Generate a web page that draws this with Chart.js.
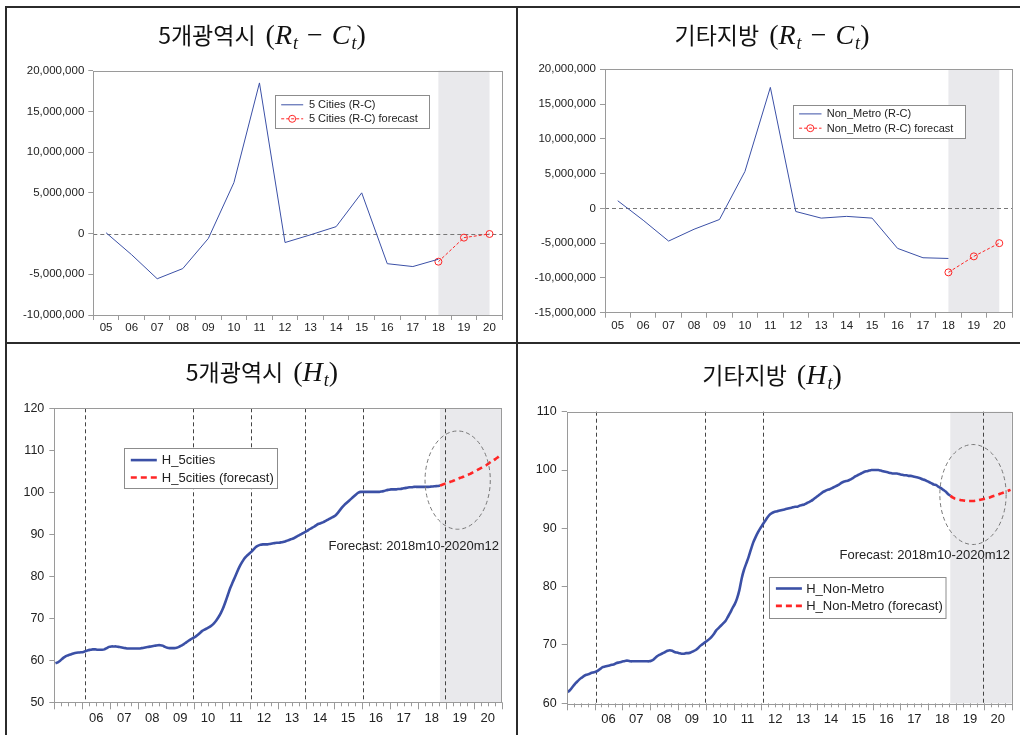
<!DOCTYPE html>
<html>
<head>
<meta charset="utf-8">
<script src="https://cdn.jsdelivr.net/npm/chart.js@4.4.1/dist/chart.umd.min.js"></script>
<style>
body{margin:0;background:#fff;width:1020px;height:735px;overflow:hidden;position:relative;}
canvas{position:absolute;}
.rule{position:absolute;background:#2b2b2b;}
.title{position:absolute;transform:translate(-50%,-50%);white-space:nowrap;color:#111;}
.title .ko{font-family:"Noto Sans CJK KR";font-size:23px;}
.title .m{font-family:"Liberation Serif",serif;font-size:28px;margin-left:6px;}
.title .op{display:inline-block;margin:0 9px;}
.title sub{font-size:18px;font-style:italic;vertical-align:-5px;margin-left:1px;}
</style>
</head>
<body>
<canvas id="c1" width="516" height="343" style="left:0;top:0"></canvas>
<canvas id="c2" width="504" height="343" style="left:516px;top:0"></canvas>
<canvas id="c3" width="516" height="392" style="left:0;top:343px"></canvas>
<canvas id="c4" width="504" height="392" style="left:516px;top:343px"></canvas>

<div class="rule" style="left:5px;top:6px;width:1015px;height:2px"></div>
<div class="rule" style="left:5px;top:6px;width:2px;height:729px"></div>
<div class="rule" style="left:516px;top:6px;width:2px;height:729px"></div>
<div class="rule" style="left:5px;top:342px;width:1015px;height:2px"></div>

<div class="title" style="left:262px;top:35px"><span class="ko">5개광역시</span> <span class="m">(<i>R</i><sub>t</sub><span class="op">−</span><i>C</i><sub>t</sub>)</span></div>
<div class="title" style="left:772px;top:35px"><span class="ko">기타지방</span> <span class="m">(<i>R</i><sub>t</sub><span class="op">−</span><i>C</i><sub>t</sub>)</span></div>
<div class="title" style="left:262px;top:372px"><span class="ko">5개광역시</span> <span class="m">(<i>H</i><sub>t</sub>)</span></div>
<div class="title" style="left:772px;top:375px"><span class="ko">기타지방</span> <span class="m">(<i>H</i><sub>t</sub>)</span></div>

<script>
// annual R-C, years 2005..2020
const years = ['05','06','07','08','09','10','11','12','13','14','15','16','17','18','19','20'];
const rc5Actual = [100000, -2600000, -5550000, -4300000, -600000, 6250000, 18500000, -1100000,
  -150000, 850000, 5000000, -3700000, -4050000, -3150000];
const rc5Forecast = [null, null, null, null, null, null, null, null, null, null, null, null, null,
  -3450000, -500000, -50000];
const rcNmActual = [1100000, -1700000, -4700000, -3000000, -1600000, 5300000, 17400000, -450000,
  -1400000, -1150000, -1400000, -5750000, -7100000, -7200000];
const rcNmForecast = [null, null, null, null, null, null, null, null, null, null, null, null, null,
  -9200000, -6900000, -5000000];

// monthly H index, 2005m1..2018m10 actual, 2018m10..2020m12 forecast
const hTickLabels = ['06','07','08','09','10','11','12','13','14','15','16','17','18','19','20'];
const forecastStart = 165; // 2018m10
const h5Actual = [
  59.3, 59.5, 59.9, 60.4, 60.8, 61.1, 61.3, 61.5, 61.7, 61.8, 61.85, 61.9,   // 05
  62.0, 62.2, 62.4, 62.5, 62.6, 62.6, 62.5, 62.5, 62.5, 62.6, 62.9, 63.2,    // 06
  63.3, 63.3, 63.3, 63.2, 63.1, 63.0, 62.9, 62.8, 62.8, 62.8, 62.8, 62.8,    // 07
  62.8, 62.9, 63.0, 63.1, 63.2, 63.3, 63.4, 63.5, 63.6, 63.6, 63.5, 63.2,    // 08
  63.0, 62.9, 62.9, 62.9, 63.0, 63.2, 63.5, 63.8, 64.2, 64.6, 65.0, 65.3,    // 09
  65.6, 66.0, 66.5, 67.0, 67.3, 67.6, 67.9, 68.3, 68.8, 69.5, 70.3, 71.3,    // 10
  72.5, 74.0, 75.6, 77.2, 78.5, 79.8, 81.1, 82.3, 83.3, 84.2, 84.8, 85.3,    // 11
  85.8, 86.4, 87.0, 87.3, 87.5, 87.6, 87.6, 87.6, 87.7, 87.8, 87.9, 88.0,    // 12
  88.0, 88.1, 88.2, 88.4, 88.6, 88.8, 89.0, 89.3, 89.6, 89.9, 90.2, 90.5,    // 13
  90.8, 91.2, 91.5, 91.8, 92.2, 92.5, 92.7, 92.9, 93.2, 93.5, 93.8, 94.1,    // 14
  94.4, 95.0, 95.7, 96.4, 97.0, 97.5, 98.0, 98.5, 99.0, 99.5, 99.9, 100.1,   // 15
  100.1, 100.1, 100.1, 100.1, 100.1, 100.1, 100.1, 100.1, 100.2, 100.3, 100.5, 100.6, // 16
  100.7, 100.7, 100.7, 100.8, 100.8, 100.9, 101.0, 101.1, 101.2, 101.2, 101.3, 101.3, // 17
  101.3, 101.3, 101.3, 101.3, 101.3, 101.35, 101.4, 101.45, 101.5, 101.6               // 18
];
const h5Forecast = [101.6, 101.8, 102.0, 102.2, 102.4, 102.6, 102.8, 103.05, 103.3, 103.5, 103.7,
  104.0, 104.2, 104.4, 104.7, 105.0, 105.3, 105.6, 105.9, 106.2, 106.5, 106.9, 107.3, 107.6,
  108.0, 108.4, 108.9];
const h5Breaks = [13, 59.5, 84.5, 107.5, 132.5, 167.5];

const hNmActual = [
  61.9, 62.3, 62.8, 63.3, 63.7, 64.1, 64.4, 64.7, 64.9, 65.0, 65.2, 65.3,    // 05
  65.4, 65.6, 65.9, 66.2, 66.3, 66.4, 66.5, 66.6, 66.7, 66.9, 67.0, 67.1,    // 06
  67.2, 67.3, 67.3, 67.2, 67.2, 67.2, 67.2, 67.2, 67.2, 67.2, 67.2, 67.2,    // 07
  67.3, 67.5, 67.9, 68.2, 68.4, 68.6, 68.8, 69.0, 69.1, 69.0, 68.8, 68.7,    // 08
  68.6, 68.5, 68.5, 68.6, 68.6, 68.7, 68.9, 69.1, 69.4, 69.8, 70.1, 70.4,    // 09
  70.7, 71.0, 71.4, 71.9, 72.5, 72.9, 73.3, 73.7, 74.1, 74.8, 75.5, 76.3,    // 10
  77.0, 78.0, 79.4, 81.4, 82.9, 84.0, 85.1, 86.4, 87.6, 88.5, 89.3, 90.0,    // 11
  90.6, 91.2, 91.8, 92.3, 92.6, 92.8, 92.9, 93.0, 93.1, 93.2, 93.3, 93.4,    // 12
  93.5, 93.6, 93.7, 93.7, 93.9, 94.0, 94.1, 94.3, 94.5, 94.7, 95.0, 95.3,    // 13
  95.6, 95.9, 96.2, 96.4, 96.6, 96.7, 96.9, 97.1, 97.3, 97.5, 97.8, 98.0,    // 14
  98.1, 98.2, 98.4, 98.6, 98.9, 99.1, 99.3, 99.5, 99.7, 99.8, 99.9, 100.0,   // 15
  100.0, 100.0, 100.0, 99.9, 99.8, 99.7, 99.6, 99.5, 99.4, 99.4, 99.4, 99.3, // 16
  99.2, 99.1, 99.1, 99.0, 99.0, 98.9, 98.8, 98.7, 98.6, 98.4, 98.3, 98.1,    // 17
  97.9, 97.7, 97.5, 97.4, 97.1, 96.9, 96.6, 96.3, 95.9, 95.6                 // 18
];
const hNmForecast = [95.6, 95.3, 95.1, 95.0, 94.9, 94.8, 94.75, 94.7, 94.7, 94.7, 94.7, 94.75,
  94.8, 94.9, 95.0, 95.1, 95.2, 95.3, 95.45, 95.6, 95.7, 95.85, 96.0, 96.15, 96.3, 96.45, 96.6];
const hNmBreaks = [12.5, 59.5, 84.5, 179.5];

const BLUE = '#3b50a6';
const RED = '#ff2626';
const AXIS = '#9a9a9a';
const TXT = '#222';
Chart.defaults.font.family = '"Liberation Sans", Arial, sans-serif';

function fmt(v) {
  return String(v).replace(/\B(?=(\d{3})+(?!\d))/g, ',');
}

// shading, zero line, break lines, frame, ellipse, note, legend
const decor = {
  id: 'decor',
  beforeDatasetsDraw(chart, args, o) {
    const {ctx, chartArea: a, scales: {x, y}} = chart;
    ctx.save();
    const x0 = x.getPixelForValue(o.shadeFrom);
    const x1 = Math.min(x.getPixelForValue(o.shadeTo), a.right);
    ctx.fillStyle = '#e9e9ec';
    ctx.fillRect(x0, a.top, x1 - x0, a.bottom - a.top);
    ctx.lineWidth = 1;
    ctx.setLineDash([4, 3]);
    if (o.zero) {
      ctx.strokeStyle = '#777';
      const py = Math.round(y.getPixelForValue(0)) + 0.5;
      ctx.beginPath(); ctx.moveTo(a.left, py); ctx.lineTo(a.right, py); ctx.stroke();
    }
    ctx.strokeStyle = '#444';
    (o.breaks || []).forEach(v => {
      const px = Math.round(x.getPixelForValue(v)) + 0.5;
      ctx.beginPath(); ctx.moveTo(px, a.top); ctx.lineTo(px, a.bottom); ctx.stroke();
    });
    ctx.restore();
  },
  afterDatasetsDraw(chart, args, o) {
    const {ctx, chartArea: a, scales: {x, y}} = chart;
    ctx.save();
    ctx.strokeStyle = AXIS;
    ctx.lineWidth = 1;
    ctx.strokeRect(Math.round(a.left) + 0.5, Math.round(a.top) + 0.5,
      Math.round(a.right - a.left), Math.round(a.bottom - a.top));
    if (o.quarterTicks) {
      for (let m = 0; m <= 192; m += 3) {
        const px = Math.round(x.getPixelForValue(m)) + 0.5;
        const len = m % 12 === 0 ? 7 : 4;
        ctx.beginPath(); ctx.moveTo(px, a.bottom); ctx.lineTo(px, a.bottom + len); ctx.stroke();
      }
    }
    if (o.ellipse) {
      const e = o.ellipse;
      const cx = x.getPixelForValue(e.x), cy = y.getPixelForValue(e.y);
      const rx = x.getPixelForValue(e.x + e.rx) - cx;
      const ry = cy - y.getPixelForValue(e.y + e.ry);
      ctx.strokeStyle = '#777';
      ctx.setLineDash([4, 3]);
      ctx.beginPath(); ctx.ellipse(cx, cy, rx, ry, 0, 0, Math.PI * 2); ctx.stroke();
      ctx.setLineDash([]);
    }
    if (o.note) {
      ctx.fillStyle = TXT;
      ctx.font = '13px "Liberation Sans", Arial, sans-serif';
      ctx.textAlign = 'right';
      ctx.textBaseline = 'middle';
      ctx.fillText(o.note.text, a.right - o.note.dx, y.getPixelForValue(o.note.y));
    }
    const L = o.legend;
    if (L) {
      const bx = Math.round(a.left + L.dx) + 0.5, by = Math.round(a.top + L.dy) + 0.5;
      ctx.fillStyle = '#fff';
      ctx.fillRect(bx, by, L.w, L.h);
      ctx.strokeStyle = '#8c8c8c';
      ctx.strokeRect(bx, by, L.w, L.h);
      ctx.font = L.font + 'px "Liberation Sans", Arial, sans-serif';
      ctx.textAlign = 'left';
      ctx.textBaseline = 'middle';
      chart.data.datasets.forEach((ds, i) => {
        const ly = by + L.rows[i];
        ctx.strokeStyle = ds.borderColor;
        ctx.lineWidth = ds.borderWidth;
        ctx.setLineDash(ds.borderDash || []);
        ctx.beginPath(); ctx.moveTo(bx + L.s0, ly); ctx.lineTo(bx + L.s1, ly); ctx.stroke();
        ctx.setLineDash([]);
        if (ds.pointRadius) {
          ctx.lineWidth = 1;
          ctx.beginPath(); ctx.arc(bx + (L.s0 + L.s1) / 2, ly, ds.pointRadius, 0, Math.PI * 2); ctx.stroke();
        }
        ctx.fillStyle = TXT;
        ctx.fillText(ds.label, bx + L.tx, ly + 0.5);
      });
    }
    ctx.restore();
  }
};

function annualChart(id, lab, actual, forecast, yMin, yMax, lay, legend) {
  return new Chart(document.getElementById(id), {
    type: 'line',
    data: {
      labels: years,
      datasets: [
        {label: lab, data: actual, borderColor: BLUE, borderWidth: 1, pointRadius: 0, tension: 0},
        {label: lab + ' forecast', data: forecast, borderColor: RED, borderWidth: 1, borderDash: [3, 2],
          pointRadius: 3.5, pointBorderWidth: 1, pointBorderColor: RED,
          pointBackgroundColor: 'rgba(0,0,0,0)', tension: 0}
      ]
    },
    options: {
      responsive: false,
      animation: false,
      layout: {padding: lay.pad},
      plugins: {
        legend: {display: false},
        tooltip: {enabled: false},
        decor: {shadeFrom: years.indexOf('18'), shadeTo: years.indexOf('20'), zero: true, legend: legend}
      },
      scales: {
        x: {
          offset: true,
          grid: {offset: true, drawOnChartArea: false, tickLength: 5, color: AXIS},
          border: {display: false},
          ticks: {color: TXT, font: {size: 11.5}, padding: 1, maxRotation: 0, autoSkip: false},
          afterFit(s) { s.height = lay.xH; }
        },
        y: {
          min: yMin, max: yMax,
          grid: {drawOnChartArea: false, tickLength: 5, color: AXIS},
          border: {display: false},
          ticks: {stepSize: 5000000, color: TXT, font: {size: 11.5}, padding: 4, callback: v => fmt(v)},
          afterFit(s) { s.width = lay.yW; }
        }
      }
    },
    plugins: [decor]
  });
}

function monthlyChart(id, lab, actual, forecast, yMin, yMax, lay, extra) {
  return new Chart(document.getElementById(id), {
    type: 'line',
    data: {
      datasets: [
        {label: lab, data: actual.map((v, i) => ({x: i + 0.5, y: v})),
          borderColor: BLUE, borderWidth: 2.6, pointRadius: 0, tension: 0.2},
        {label: lab + ' (forecast)', data: forecast.map((v, i) => ({x: forecastStart + i + 0.5, y: v})),
          borderColor: RED, borderWidth: 2.6, borderDash: [6, 4], pointRadius: 0, tension: 0.2}
      ]
    },
    options: {
      responsive: false,
      animation: false,
      layout: {padding: lay.pad},
      plugins: {
        legend: {display: false},
        tooltip: {enabled: false},
        decor: Object.assign({shadeFrom: forecastStart + 0.5, shadeTo: 192, quarterTicks: true}, extra)
      },
      scales: {
        x: {
          type: 'linear', min: 0, max: 192,
          grid: {display: false, tickLength: 6},
          border: {display: false},
          afterBuildTicks(s) { s.ticks = hTickLabels.map((t, i) => ({value: 12 * (i + 1) + 6})); },
          ticks: {color: TXT, font: {size: 13}, padding: 2, maxRotation: 0, autoSkip: false,
            callback: (v, i) => hTickLabels[i]},
          afterFit(s) { s.height = lay.xH; }
        },
        y: {
          min: yMin, max: yMax,
          grid: {drawOnChartArea: false, tickLength: 5, color: AXIS},
          border: {display: false},
          ticks: {stepSize: 10, color: TXT, font: {size: 12.5}, padding: 5},
          afterFit(s) { s.width = lay.yW; }
        }
      }
    },
    plugins: [decor]
  });
}

annualChart('c1', '5 Cities (R-C)', rc5Actual, rc5Forecast, -10000000, 20000000,
  {pad: {left: 0, top: 70.7, right: 13.7, bottom: 0}, yW: 93.3, xH: 28},
  {dx: 182, dy: 24.3, w: 154, h: 33, s0: 5.7, s1: 27.7, tx: 33.4, rows: [9.3, 23.3], font: 11});

annualChart('c2', 'Non_Metro (R-C)', rcNmActual, rcNmForecast, -15000000, 20000000,
  {pad: {left: 0, top: 69.3, right: 8, bottom: 0}, yW: 89, xH: 30.3},
  {dx: 187.7, dy: 36, w: 172, h: 33, s0: 5.6, s1: 28, tx: 33.3, rows: [8.4, 22.7], font: 11});

monthlyChart('c3', 'H_5cities', h5Actual, h5Forecast, 50, 120,
  {pad: {left: 0, top: 65.3, right: 14.3, bottom: 0}, yW: 54.3, xH: 32.7},
  {breaks: h5Breaks,
   ellipse: {x: 173.1, y: 102.9, rx: 14.0, ry: 11.7},
   note: {text: 'Forecast: 2018m10-2020m12', dx: 2.7, y: 87.0},
   legend: {dx: 69.4, dy: 39.4, w: 153, h: 40, s0: 6.3, s1: 32.3, tx: 37.3, rows: [11.6, 29], font: 13}});

monthlyChart('c4', 'H_Non-Metro', hNmActual, hNmForecast, 60, 110,
  {pad: {left: 0, top: 68.7, right: 8.3, bottom: 0}, yW: 50.7, xH: 31.7},
  {breaks: hNmBreaks,
   ellipse: {x: 175.3, y: 95.8, rx: 14.3, ry: 8.57},
   note: {text: 'Forecast: 2018m10-2020m12', dx: 1.7, y: 85.4},
   legend: {dx: 202.6, dy: 165.6, w: 176.5, h: 41, s0: 6.4, s1: 32.4, tx: 36.7, rows: [11, 28.4], font: 13}});
</script>
</body>
</html>
